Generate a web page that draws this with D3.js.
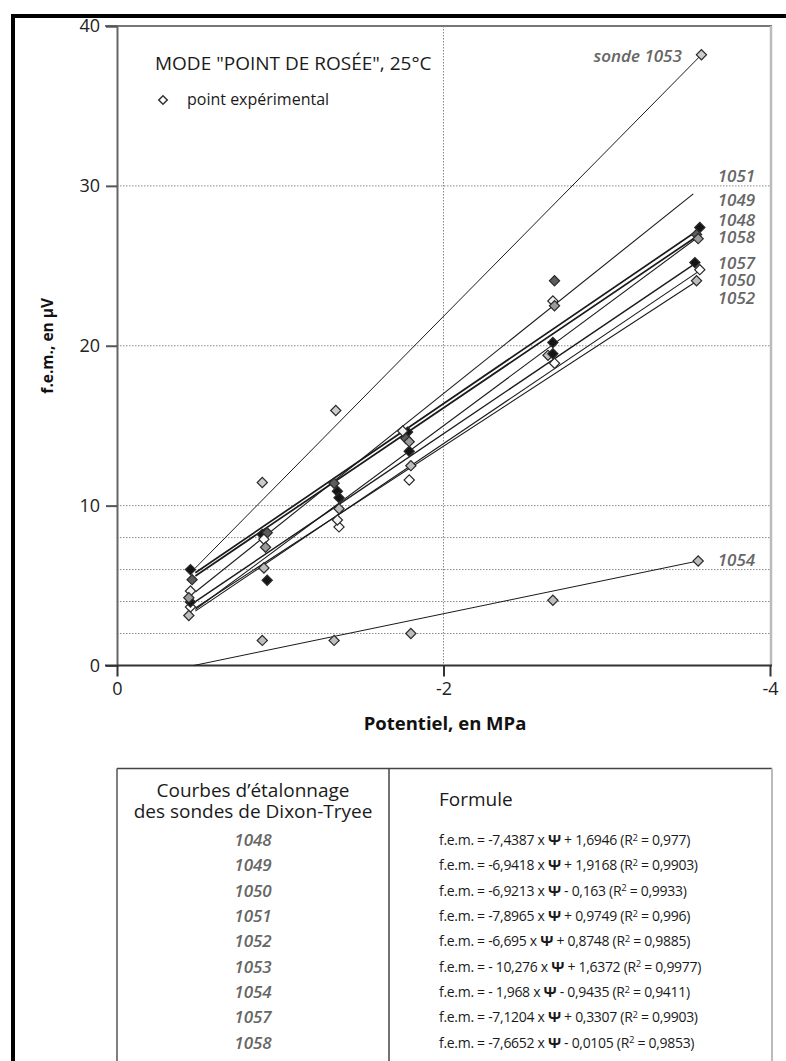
<!DOCTYPE html>
<html><head><meta charset="utf-8">
<script src="https://cdn.jsdelivr.net/npm/d3@7"></script>
<style>
html,body{margin:0;padding:0;background:#fff;}
svg{display:block;}
text{font-family:"Open Sans",sans-serif;}
</style></head><body>
<svg id="c" width="786" height="1061"></svg>
<script>
// ---------- DATA ----------
const probes = ["1048","1049","1050","1051","1052","1053","1054","1057","1058"];
const probeFill = ["#151515","#5c5c5c","#ffffff","#f2f2f2","#bdbdbd","#cccccc","#bdbdbd","#151515","#9a9a9a"];
const pointPsi = [
  [-0.45,-0.89,-1.35,-1.78,-2.67,-3.57],   // 1048
  [-0.46,-0.92,-1.33,-1.77,-2.68,-3.55],   // 1049
  [-0.45,-0.90,-1.36,-1.79,-2.68,-3.57],   // 1050
  [-0.45,-1.35,-1.75,-2.67],               // 1051
  [-0.44,-0.90,-1.36,-1.80,-2.64,-3.55],   // 1052
  [-0.89,-1.34,-3.58],                     // 1053
  [-0.89,-1.33,-1.80,-2.67,-3.56],         // 1054
  [-0.45,-0.92,-1.36,-1.79,-2.67,-3.54],   // 1057
  [-0.44,-0.91,-1.79,-2.68,-3.56]          // 1058
];
const pointVal = [
  [6.0, 8.2, 10.9, 14.6, 20.2, 27.4],
  [5.37, 8.3, 11.4, 14.2, 24.07, 26.96],
  [3.66, 7.9, 8.67, 11.6, 18.9, 24.76],
  [4.66, 9.1, 14.67, 22.8],
  [3.13, 6.1, 9.8, 12.5, 19.4, 24.07],
  [11.45, 15.95, 38.2],
  [1.57, 1.57, 2.0, 4.08, 6.54],
  [3.97, 5.33, 10.5, 13.4, 19.5, 25.2],
  [4.24, 7.4, 14.0, 22.5, 26.7]
];
// regression lines: end points
const lineStartPsi = [-0.48,-0.48,-0.48,-0.48,-0.48,-0.48,-0.47,-0.48,-0.48];
const lineStartVal = [5.8, 5.6, 3.4, 4.6, 3.6, 6.1, 0.0, 4.0, 3.5];
const lineEndPsi   = [-3.57,-3.56,-3.57,-3.53,-3.56,-3.58,-3.56,-3.55,-3.56];
const lineEndVal   = [27.3, 26.9, 24.7, 29.5, 24.1, 38.2, 6.54, 25.2, 26.8];
const lineWidth    = [1.7, 1.7, 1.1, 1.1, 1.1, 1.0, 1.0, 1.4, 1.1];
// probe labels on the right of the lines (data units)
const labelText = ["1048","1049","1050","1051","1052","sonde 1053","1054","1057","1058"];
const labelPsi  = [-3.68,-3.68,-3.68,-3.68,-3.68,-3.46,-3.68,-3.68,-3.68];
const labelVal  = [27.9, 29.1, 24.1, 30.6, 23.0, 38.1, 6.6, 25.2, 26.8];
// axes
const xTicks = [0,-2,-4];
const yTicks = [0,10,20,30,40];
const yGrid = [2,4,6,8,10,20,30];
const xGrid = [-2];
// table
const formulaCoef = ["-7,4387","-6,9418","-6,9213","-7,8965","-6,695","- 10,276","- 1,968","-7,1204","-7,6652"];
const formulaConst = ["+ 1,6946","+ 1,9168","- 0,163","+ 0,9749","+ 0,8748","+ 1,6372","- 0,9435","+ 0,3307","- 0,0105"];
const formulaR2 = ["0,977","0,9903","0,9933","0,996","0,9885","0,9977","0,9411","0,9903","0,9853"];

// ---------- DRAW ----------
const svg = d3.select("#c");
const x = d3.scaleLinear().domain([0,-4]).range([117,770]);
const y = d3.scaleLinear().domain([0,40]).range([665.5,26]);

// outer thick frame
svg.append("rect").attr("x",13).attr("y",16).attr("width",900).attr("height",1200)
  .attr("fill","none").attr("stroke","#000").attr("stroke-width",4);

// grid
svg.append("g").selectAll("line").data(yGrid).join("line")
  .attr("x1",x(0)).attr("x2",x(-4)).attr("y1",d=>y(d)).attr("y2",d=>y(d))
  .attr("stroke","#8a8a8a").attr("stroke-width",1).attr("stroke-dasharray","1.5,1.5");
svg.append("g").selectAll("line").data(xGrid).join("line")
  .attr("x1",d=>x(d)).attr("x2",d=>x(d)).attr("y1",y(40)).attr("y2",y(0))
  .attr("stroke","#8a8a8a").attr("stroke-width",1).attr("stroke-dasharray","1.5,1.5");

// plot frame: top line and right line
svg.append("line").attr("x1",105).attr("x2",772).attr("y1",y(40)).attr("y2",y(40))
  .attr("stroke","#777").attr("stroke-width",2);
svg.append("line").attr("x1",x(-4)+1).attr("x2",x(-4)+1).attr("y1",y(40)).attr("y2",y(0))
  .attr("stroke","#bbb").attr("stroke-width",2.5);

// y axis
const yAxis = d3.axisLeft(y).tickValues(yTicks).tickSize(11).tickPadding(6).tickFormat(d3.format("d"));
const gy = svg.append("g").attr("transform",`translate(${x(0)},0)`).call(yAxis);
gy.select(".domain").attr("stroke","#666").attr("stroke-width",2);
gy.selectAll(".tick line").attr("stroke","#555").attr("stroke-width",2);
gy.selectAll(".tick text").attr("font-size",18).attr("fill","#222").attr("font-family","Open Sans");

// x axis
const xAxis = d3.axisBottom(x).tickValues(xTicks).tickSize(11).tickPadding(6).tickFormat(d=>d===0?"0":String(d));
const gx = svg.append("g").attr("transform",`translate(0,${y(0)})`).call(xAxis);
gx.select(".domain").remove();
gx.selectAll(".tick line").attr("stroke","#333").attr("stroke-width",2);
gx.selectAll(".tick text").attr("font-size",18).attr("fill","#222").attr("font-family","Open Sans");
svg.append("line").attr("x1",105).attr("x2",772).attr("y1",y(0)).attr("y2",y(0))
  .attr("stroke","#333").attr("stroke-width",2);

// axis titles
svg.append("text").attr("x",445).attr("y",730).attr("text-anchor","middle")
  .attr("font-weight","bold").attr("font-size",18.5).attr("fill","#111").text("Potentiel, en MPa");
svg.append("text").attr("transform",`translate(53,${(y(0)+y(40))/2}) rotate(-90)`)
  .attr("text-anchor","middle").attr("font-weight","bold").attr("font-size",15.5).attr("fill","#111")
  .text("f.e.m., en µV");

// regression lines
svg.append("g").selectAll("line").data(probes).join("line")
  .attr("x1",(d,i)=>x(lineStartPsi[i])).attr("y1",(d,i)=>y(lineStartVal[i]))
  .attr("x2",(d,i)=>x(lineEndPsi[i])).attr("y2",(d,i)=>y(lineEndVal[i]))
  .attr("stroke","#1a1a1a").attr("stroke-width",(d,i)=>lineWidth[i]);

// points
const diamond = d3.symbol().type(d3.symbolSquare).size(52)();
const pts = [];
probes.forEach((p,i)=>pointPsi[i].forEach((ps,j)=>pts.push({psi:ps,v:pointVal[i][j],fill:probeFill[i]})));
svg.append("g").selectAll("path").data(pts).join("path")
  .attr("d",diamond)
  .attr("transform",d=>`translate(${x(d.psi)},${y(d.v)}) rotate(45)`)
  .attr("fill",d=>d.fill).attr("stroke","#2a2a2a").attr("stroke-width",1.2);

// probe labels
svg.append("g").selectAll("text").data(probes).join("text")
  .attr("x",(d,i)=>x(labelPsi[i])).attr("y",(d,i)=>y(labelVal[i]))
  .attr("dy","0.36em")
  .attr("text-anchor",(d,i)=>labelText[i].startsWith("sonde")?"end":"start")
  .attr("font-style","italic").attr("font-weight",600).attr("font-size",17)
  .attr("fill","#666").text((d,i)=>labelText[i]);

// title & legend
svg.append("text").attr("x",155).attr("y",70).attr("font-size",19).attr("fill","#1a1a1a")
  .text('MODE "POINT DE ROSÉE", 25°C');
svg.append("path").attr("d",d3.symbol().type(d3.symbolSquare).size(36)())
  .attr("transform","translate(163,100) rotate(45)")
  .attr("fill","#fff").attr("stroke","#333").attr("stroke-width",1.5);
svg.append("text").attr("x",187).attr("y",105).attr("font-size",16).attr("fill","#1a1a1a")
  .text("point expérimental");

// ---------- TABLE ----------
const tLeft = x(0), tMid = 389, tRight = 771, tTop = 768.5;
svg.append("line").attr("x1",tLeft).attr("x2",tRight+1).attr("y1",tTop).attr("y2",tTop)
  .attr("stroke","#444").attr("stroke-width",1.6);
svg.append("line").attr("x1",tLeft).attr("x2",tLeft).attr("y1",tTop).attr("y2",1061)
  .attr("stroke","#555").attr("stroke-width",1.5);
svg.append("line").attr("x1",tMid).attr("x2",tMid).attr("y1",tTop).attr("y2",1061)
  .attr("stroke","#444").attr("stroke-width",1.5);
svg.append("line").attr("x1",tRight+1).attr("x2",tRight+1).attr("y1",tTop).attr("y2",1061)
  .attr("stroke","#bbb").attr("stroke-width",2);

const colC = (tLeft+tMid)/2;
svg.append("text").attr("x",colC).attr("y",797).attr("text-anchor","middle")
  .attr("font-size",19).attr("fill","#1a1a1a").text("Courbes d’étalonnage");
svg.append("text").attr("x",colC).attr("y",818).attr("text-anchor","middle")
  .attr("font-size",19).attr("fill","#1a1a1a").text("des sondes de Dixon-Tryee");
svg.append("text").attr("x",439).attr("y",806)
  .attr("font-size",19).attr("fill","#1a1a1a").text("Formule");

const rowY = d3.scalePoint().domain(probes).range([840,1042.7]);
svg.append("g").selectAll("text").data(probes).join("text")
  .attr("x",colC).attr("y",d=>rowY(d)).attr("dy","0.36em").attr("text-anchor","middle")
  .attr("font-style","italic").attr("font-weight",600).attr("font-size",17).attr("fill","#666")
  .text(d=>d);

const ft = svg.append("g").selectAll("text").data(probes).join("text")
  .attr("x",439).attr("y",d=>rowY(d)).attr("dy","0.36em")
  .attr("font-size",14).attr("fill","#1a1a1a").attr("letter-spacing","-0.3");
ft.append("tspan").text((d,i)=>`f.e.m. = ${formulaCoef[i]} x `);
ft.append("tspan").attr("font-weight","bold").attr("font-size",15).text("Ψ");
ft.append("tspan").text((d,i)=>` ${formulaConst[i]} (R`);
ft.append("tspan").attr("font-size",9.5).attr("dy","-0.45em").text("2");
ft.append("tspan").attr("dy","0.3em").text((d,i)=>` = ${formulaR2[i]})`);
</script>
</body></html>
